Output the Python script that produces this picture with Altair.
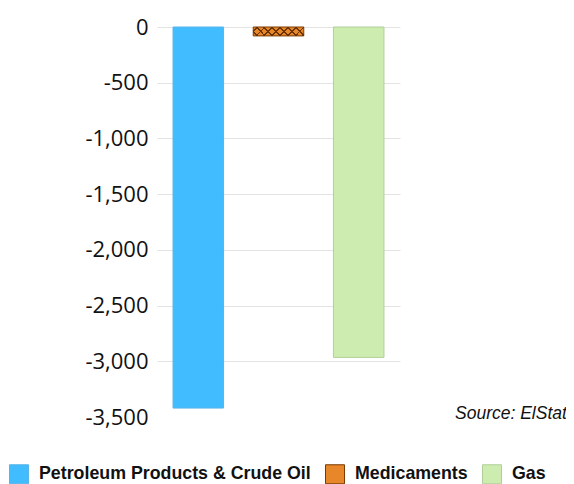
import altair as alt
import pandas as pd

categories = ["Petroleum Products & Crude Oil", "Medicaments", "Gas"]
values = [-3420, -80, -2965]
fill_colors = ["#40BCFF", "#E8862A", "#CDEDB0"]
stroke_colors = ["#5AB4E6", "#7A3B00", "#B0CF98"]
y_ticks = [-3500, -3000, -2500, -2000, -1500, -1000, -500, 0]
source_note = ["Source: ElStat"]
hatched = "Medicaments"

df = pd.DataFrame({"category": categories, "value": values})

x_enc = alt.X("category:N", sort=categories, axis=None,
              scale=alt.Scale(paddingInner=0.37, paddingOuter=0.2))
y_enc = alt.Y("value:Q", title=None,
              scale=alt.Scale(domain=[-3500, 0], nice=False, zero=True),
              axis=alt.Axis(values=y_ticks, domain=False, ticks=False,
                            labelExpr="replace(format(datum.value, ',.0f'), '\u2212', '-')",
                            labelFont="Open Sans", labelFontSize=22, labelColor="#111111",
                            labelPadding=9, gridColor="#E3E3E3", gridWidth=1,
                            gridOpacity={"condition": {"test": "datum.value === -3500", "value": 0}, "value": 1}))

bars = alt.Chart(df).mark_bar(strokeWidth=1).encode(
    x=x_enc,
    y=y_enc,
    color=alt.Color("category:N", sort=categories,
                    scale=alt.Scale(domain=categories, range=fill_colors),
                    legend=alt.Legend(title=None, orient="none", direction="horizontal",
                                      legendX=-148, legendY=437, padding=0,
                                      symbolType="square", symbolSize=361,
                                      symbolStrokeColor="#888888", symbolStrokeWidth=1,
                                      labelFont="Liberation Sans", labelFontWeight="bold",
                                      labelFontSize=17.8, labelColor="#111111",
                                      labelOffset=10, columnPadding=12, labelLimit=400)),
    stroke=alt.Stroke("category:N", scale=alt.Scale(domain=categories, range=stroke_colors),
                      legend=None),
)


def hatch_stops(n, line_color, width):
    stops = []
    step = 1.0 / n
    for k in range(n):
        a = k * step
        stops.append({"offset": a, "color": "rgba(0,0,0,0)"})
        stops.append({"offset": a + step / 2 - width / 2, "color": "rgba(0,0,0,0)"})
        stops.append({"offset": a + step / 2 - width / 2, "color": line_color})
        stops.append({"offset": a + step / 2 + width / 2, "color": line_color})
        stops.append({"offset": a + step / 2 + width / 2, "color": "rgba(0,0,0,0)"})
    stops.append({"offset": 1, "color": "rgba(0,0,0,0)"})
    return stops


hatch_a = alt.Chart(df).transform_filter(alt.datum.category == hatched).mark_bar(
    strokeWidth=0,
    color={"gradient": "linear", "x1": 0, "y1": 0, "x2": 1.2, "y2": 0.21,
           "stops": hatch_stops(8, "#6B3300", 0.03)},
).encode(x=x_enc, y=y_enc)

hatch_b = alt.Chart(df).transform_filter(alt.datum.category == hatched).mark_bar(
    strokeWidth=0,
    color={"gradient": "linear", "x1": 0, "y1": 1, "x2": 1.2, "y2": 0.79,
           "stops": hatch_stops(8, "#6B3300", 0.03)},
).encode(x=x_enc, y=y_enc)

note = alt.Chart(pd.DataFrame({"t": source_note})).mark_text(
    font="Liberation Sans", fontStyle="italic", fontSize=17.5, color="#111111",
    align="left", baseline="middle"
).encode(text="t:N", x=alt.value(298), y=alt.value(387))

chart = alt.layer(bars, hatch_a, hatch_b, note).properties(
    width=243, height=390,
    autosize=alt.AutoSizeParams(type="none"),
    padding={"left": 149, "top": 19, "right": 166, "bottom": 67},
).configure_view(stroke=None)

chart.save("out.html", embed_options={"renderer": "svg", "actions": False})
